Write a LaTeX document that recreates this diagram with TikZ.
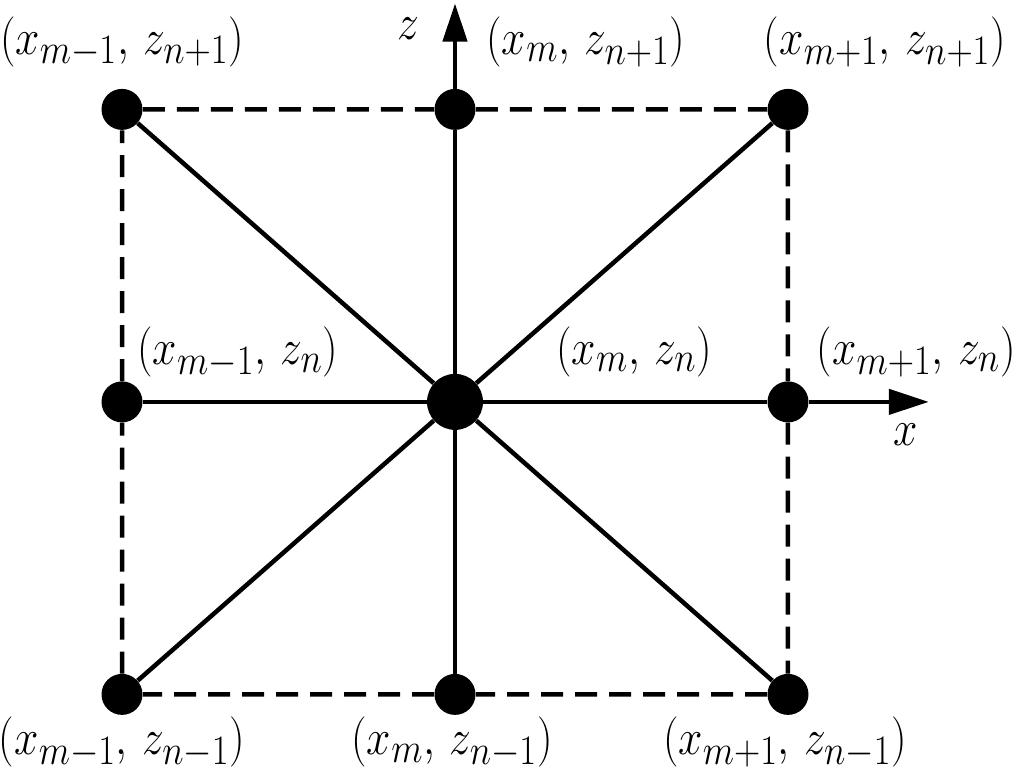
\documentclass[tikz,border=0pt]{standalone}
\usepackage{graphicx}
\usetikzlibrary{arrows.meta}
\newcommand{\gridpt}[2]{\scalebox{1}[1.15]{$(x_{#1},\,z_{#2})$}}
\begin{document}
\begin{tikzpicture}[xscale=6.66,yscale=5.85,
    dot/.style={circle,fill=black,inner sep=0pt,minimum size=0.82cm},
    bigdot/.style={dot,minimum size=1.12cm},
    link/.style={line width=0.09cm},
    dashlink/.style={link,dash pattern=on 0.44cm off 0.24cm},
    lbl/.style={font=\fontsize{30}{36}\selectfont,inner sep=0pt}]
      \useasboundingbox (-1.3664,-1.296) rectangle (1.6997,1.374);
      % grid points
      \node[dot] (tl) at (-1,1) {};
      \node[dot] (tm) at (0,1) {};
      \node[dot] (tr) at (1,1) {};
      \node[dot] (ml) at (-1,0) {};
      \node[bigdot] (c) at (0,0) {};
      \node[dot] (mr) at (1,0) {};
      \node[dot] (bl) at (-1,-1) {};
      \node[dot] (bm) at (0,-1) {};
      \node[dot] (br) at (1,-1) {};
      \coordinate (ztip) at (0,1.362);
      \coordinate (xtip) at (1.423,0);
      % outer frame
      \draw[dashlink] (tl) -- (tm) -- (tr) -- (mr) -- (br) -- (bm) -- (bl) -- (ml) -- (tl);
      % axes
      \draw[link,-{Triangle[length=0.76cm,width=0.48cm]}] (bm) -- (c) -- (tm) -- (ztip);
      \draw[link,-{Triangle[length=0.8cm,width=0.5cm]}] (ml) -- (c) -- (mr) -- (xtip);
      \node[lbl] (zl) at (-0.141,1.275) {\scalebox{1}[1.15]{$z$}};
      \node[lbl] (xl) at (1.354,-0.113) {\scalebox{1}[1.15]{$x$}};
      % diagonals
      \draw[link] (tl) -- (c) -- (br);
      \draw[link] (tr) -- (c) -- (bl);
      % labels
      \node[lbl] (ltl) at (-1.0,1.231) {\gridpt{m-1}{n+1}};
      \node[lbl] (ltm) at (0.393,1.231) {\gridpt{m}{n+1}};
      \node[lbl] (ltr) at (1.291,1.231) {\gridpt{m+1}{n+1}};
      \node[lbl] (lml) at (-0.652,0.168) {\gridpt{m-1}{n}};
      \node[lbl] (lc) at (0.538,0.171) {\gridpt{m}{n}};
      \node[lbl] (lmr) at (1.385,0.171) {\gridpt{m+1}{n}};
      \node[lbl] (lbl) at (-1.0,-1.165) {\gridpt{m-1}{n-1}};
      \node[lbl] (lbm) at (-0.009,-1.165) {\gridpt{m}{n-1}};
      \node[lbl] (lbr) at (0.991,-1.165) {\gridpt{m+1}{n-1}};
    \end{tikzpicture}
\end{document}
